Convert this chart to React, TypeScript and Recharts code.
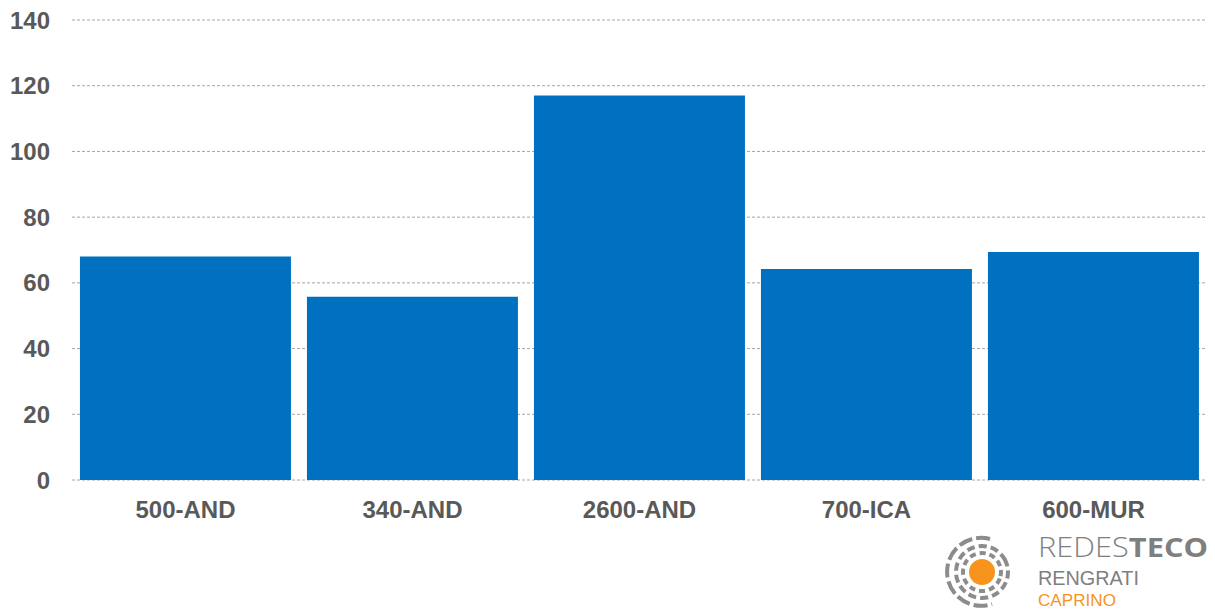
import { Bar, BarChart, CartesianGrid, XAxis, YAxis } from 'recharts'

const categories = ['500-AND', '340-AND', '2600-AND', '700-ICA', '600-MUR']
const values = [68, 55.8, 117, 64.2, 69.4]
const yTicks = [0, 20, 40, 60, 80, 100, 120, 140]

const chartData = categories.map((name, i) => ({ name, value: values[i] }))

const labelStyle = {
  fill: '#595959',
  fontSize: 24,
  fontWeight: 700,
  fontFamily: '"Liberation Sans", Arial, sans-serif',
}

function Logo() {
  return (
    <svg
      width={280}
      height={90}
      style={{ position: 'absolute', left: 935, top: 520 }}
      fontFamily='"Liberation Sans", Arial, sans-serif'
    >
      <g transform="translate(47,52)" fill="none" stroke="#8c8c8c" strokeWidth={4}>
        <path d="M 8 -33 A 34 34 0 1 0 10 32" strokeDasharray="14 4" />
        <circle r={26} strokeDasharray="8 4" transform="rotate(-30)" />
        <circle r={19} strokeDasharray="6 4" transform="rotate(20)" />
        <circle r={13} fill="#f7941d" stroke="none" />
      </g>
      <text
        x={103}
        y={37}
        fontSize={27}
        fontWeight={300}
        fontFamily='"Open Sans", "Noto Sans", sans-serif'
        fill="#7f7f7f"
        textLength={170}
        lengthAdjust="spacingAndGlyphs"
      >
        REDES<tspan fontWeight={700}>TECO</tspan>
      </text>
      <text x={103} y={65} fontSize={20} fill="#7f7f7f" textLength={101} lengthAdjust="spacingAndGlyphs">
        RENGRATI
      </text>
      <text x={103} y={86} fontSize={17} fill="#f7941d" textLength={78} lengthAdjust="spacingAndGlyphs">
        CAPRINO
      </text>
    </svg>
  )
}

export default function App() {
  return (
    <div style={{ position: 'absolute', left: 0, top: 0, width: 1215, height: 610, background: '#fff' }}>
      <BarChart
        width={1215}
        height={610}
        data={chartData}
        margin={{ top: 20, right: 8, bottom: 100, left: 12 }}
        barCategoryGap="3.5%"
      >
        <CartesianGrid vertical={false} stroke="#a6a6a6" strokeDasharray="3 2" />
        <XAxis
          dataKey="name"
          height={30}
          axisLine={false}
          tickLine={false}
          tickMargin={15}
          tick={labelStyle}
          interval={0}
        />
        <YAxis
          width={60}
          domain={[0, 140]}
          ticks={yTicks}
          axisLine={false}
          tickLine={false}
          tickMargin={16}
          tick={labelStyle}
        />
        <Bar dataKey="value" fill="#0070c0" isAnimationActive={false} />
      </BarChart>
      <Logo />
    </div>
  )
}
